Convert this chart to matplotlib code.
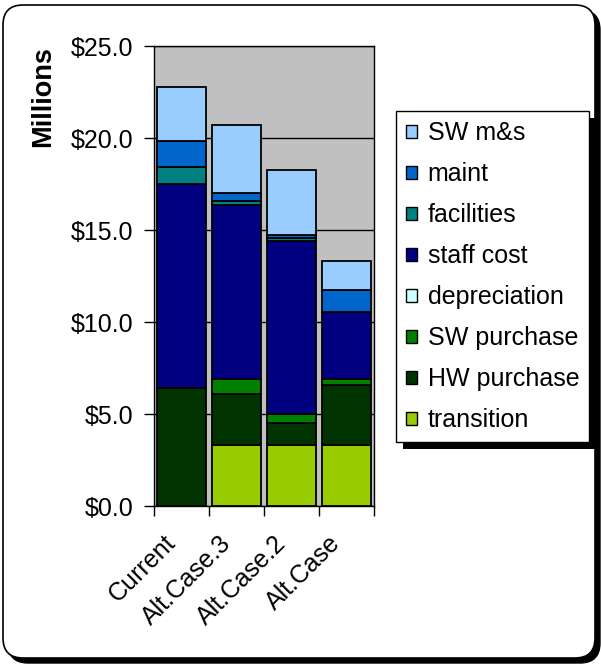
import matplotlib
matplotlib.use("Agg")
import matplotlib.pyplot as plt
import numpy as np
from matplotlib.patches import FancyBboxPatch, Patch, Rectangle
from matplotlib.transforms import IdentityTransform
from matplotlib.ticker import FuncFormatter, FixedLocator

plt.rcParams['font.family'] = ['Liberation Sans', 'DejaVu Sans']

## cost breakdown per scenario, $ millions
cases = ['Current', 'Alt.Case.3', 'Alt.Case.2', 'Alt.Case']
transition = [0.0, 3.3, 3.3, 3.3]
hw_purchase = [6.4, 2.8, 1.2, 3.3]
sw_purchase = [0.0, 0.8, 0.5, 0.3]
depreciation = [0.0, 0.0, 0.0, 0.0]
staff_cost = [11.1, 9.45, 9.4, 3.65]
facilities = [0.95, 0.2, 0.15, 0.0]
maint = [1.4, 0.45, 0.2, 1.2]
sw_ms = [2.9, 3.7, 3.5, 1.55]

series = [
    ('transition', transition, '#99CC00'),
    ('HW purchase', hw_purchase, '#003300'),
    ('SW purchase', sw_purchase, '#008000'),
    ('depreciation', depreciation, '#CCFFFF'),
    ('staff cost', staff_cost, '#000080'),
    ('facilities', facilities, '#008080'),
    ('maint', maint, '#0066CC'),
    ('SW m&s', sw_ms, '#99CCFF'),
]

FS = 18
W, H = 601, 664
fig = plt.figure(figsize=(W / 100, H / 100), dpi=100)

# rounded outer frame with drop shadow
fx0, fy0, fx1, fy1 = 3, 6, 595, 659
shadow = FancyBboxPatch((fx0 + 5, fy0 - 5), fx1 - fx0, fy1 - fy0,
                        boxstyle="round,pad=0,rounding_size=20",
                        transform=IdentityTransform(), facecolor='black',
                        edgecolor='black', zorder=0)
frame = FancyBboxPatch((fx0, fy0), fx1 - fx0, fy1 - fy0,
                       boxstyle="round,pad=0,rounding_size=20",
                       transform=IdentityTransform(), facecolor='white',
                       edgecolor='black', linewidth=1.2, zorder=1)
fig.patches.extend([shadow, frame])

ax = fig.add_axes([154 / W, 1 - 506 / H, 220 / W, 460 / H], zorder=2)
ax.set_facecolor('#C0C0C0')

x = np.arange(len(cases))
bottom = np.zeros(len(cases))
handles = []
for name, vals, col in series:
    vals = np.array(vals)
    ax.bar(x, vals, width=0.89, bottom=bottom, color=col,
           edgecolor='black', linewidth=1.3, zorder=3)
    bottom += vals
    handles.append(Patch(facecolor=col, edgecolor='black', linewidth=1.0, label=name))

ax.set_xlim(-0.5, len(cases) - 0.5)
ax.set_ylim(0, 25)
ax.set_yticks(np.arange(0, 26, 5))
ax.yaxis.set_major_formatter(FuncFormatter(lambda v, p: f"${v:.1f}"))
ax.yaxis.grid(True, color='black', linewidth=1.0, zorder=1)
ax.set_axisbelow(True)

# ticks sit on the category boundaries; rotated labels end a bit left of bar centre
ax.xaxis.set_major_locator(FixedLocator(np.arange(len(cases) + 1) - 0.5))
ax.xaxis.set_minor_locator(FixedLocator(x - 0.33))
ax.set_xticklabels([], minor=False)
ax.set_xticklabels(cases, minor=True, rotation=45, ha='right',
                   rotation_mode='anchor', fontsize=FS)
ax.tick_params(axis='x', which='major', length=7, width=1, direction='out')
ax.tick_params(axis='x', which='minor', length=0, pad=18)
ax.tick_params(axis='y', length=7, width=1, direction='out', pad=8, labelsize=FS)
for s in ax.spines.values():
    s.set_color('black')
    s.set_linewidth(1.0)

fig.text(43 / W, 1 - 97 / H, 'Millions', rotation=90, fontsize=19.5,
         fontweight='bold', ha='center', va='center')

leg = fig.legend(handles[::-1], [h.get_label() for h in handles[::-1]],
                 loc='upper left', bbox_to_anchor=(396 / W, 1 - 111 / H),
                 fontsize=FS, frameon=True, fancybox=False, framealpha=1,
                 handlelength=0.42, handleheight=0.42, handletextpad=0.45,
                 labelspacing=0.68, borderpad=0.4, borderaxespad=0)
leg.get_frame().set_edgecolor('black')
leg.get_frame().set_facecolor('white')
leg.get_frame().set_linewidth(1.0)
leg.set_zorder(6)

fig.canvas.draw()
bb = leg.get_window_extent()
fig.patches.append(Rectangle((bb.x0 + 7, bb.y0 - 7), bb.width, bb.height,
                             transform=IdentityTransform(), facecolor='black',
                             edgecolor='none', zorder=5))

fig.savefig('out.png', dpi=100)
